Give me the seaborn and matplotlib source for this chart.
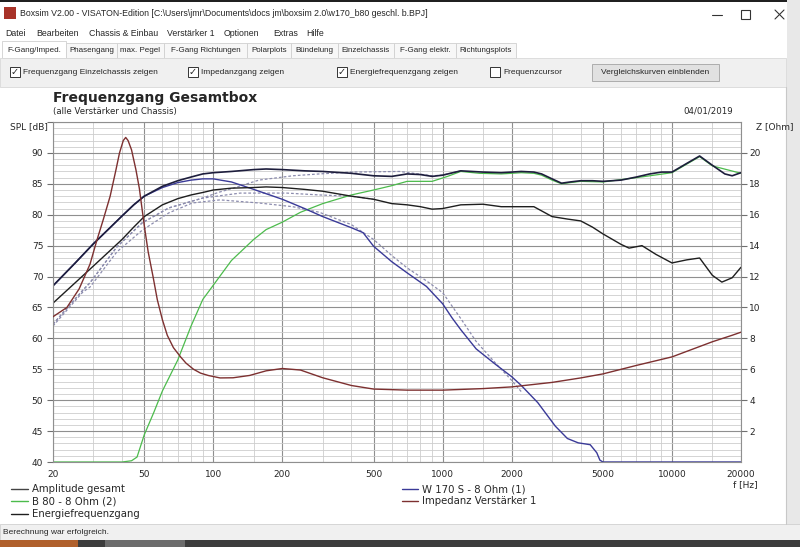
import matplotlib
matplotlib.use("Agg")
import matplotlib.pyplot as plt
import seaborn as sns
from matplotlib.lines import Line2D
from matplotlib.patches import Rectangle

# ---- curve data ----
freq_amp = [20, 25, 30, 35, 40, 45, 50, 60, 70, 80, 90, 100, 120, 150, 170, 200, 250, 300, 400, 500,
            600, 700, 800, 900, 1000, 1200, 1500, 1800, 2000, 2200, 2500, 2700, 3000, 3300, 3600, 4000,
            4500, 5000, 6000, 7000, 8000, 9000, 10000, 11600, 13200, 15000, 17000, 18300, 20000]
spl_amp = [68.5, 72.2, 75.3, 77.7, 79.8, 81.6, 83.0, 84.6, 85.5, 86.1, 86.6, 86.8, 87.0, 87.3, 87.4, 87.3,
           87.1, 87.0, 86.7, 86.3, 86.2, 86.6, 86.5, 86.2, 86.4, 87.1, 86.9, 86.8, 86.9, 87.0, 86.9, 86.6,
           85.8, 85.1, 85.3, 85.5, 85.5, 85.4, 85.6, 86.1, 86.6, 86.9, 86.9, 88.3, 89.5, 88.0, 86.6, 86.3, 86.8]

freq_b80 = [20, 30, 40, 44, 46.5, 50, 55, 60, 70, 80, 90, 100, 120, 150, 170, 200, 240, 300, 400, 500,
            600, 700, 900, 1050, 1200, 1450, 1800, 2000, 2200, 2500, 2700, 3000, 3300, 3600, 4000, 5000,
            7000, 10000, 13200, 15000, 20000]
spl_b80 = [40.0, 40.0, 40.0, 40.2, 40.8, 44.4, 48.0, 51.5, 56.5, 62.0, 66.3, 68.6, 72.6, 76.0, 77.6, 78.8,
           80.4, 81.8, 83.2, 84.0, 84.7, 85.4, 85.4, 86.2, 87.0, 86.7, 86.6, 86.7, 86.8, 86.7, 86.4, 85.6,
           85.0, 85.2, 85.4, 85.3, 86.0, 86.8, 89.4, 87.9, 86.7]

freq_energy = [20, 25, 30, 35, 40, 45, 50, 60, 70, 80, 90, 100, 120, 150, 170, 200, 250, 300, 400, 500,
               600, 700, 800, 900, 1000, 1200, 1500, 1800, 2000, 2500, 3000, 3500, 4000, 4500, 5000, 6000,
               6500, 7400, 8500, 10000, 11600, 13200, 15000, 16500, 18300, 20000]
spl_energy = [65.7, 69.0, 71.7, 74.0, 76.0, 78.0, 79.7, 81.6, 82.6, 83.2, 83.6, 84.0, 84.3, 84.4, 84.5, 84.4,
              84.1, 83.8, 83.0, 82.5, 81.8, 81.6, 81.3, 80.9, 81.0, 81.6, 81.7, 81.3, 81.3, 81.3, 79.7, 79.3,
              79.0, 78.0, 76.9, 75.2, 74.6, 75.0, 73.6, 72.2, 72.7, 73.0, 70.2, 69.1, 69.8, 71.5]

freq_w170 = [20, 25, 30, 35, 40, 45, 50, 60, 70, 80, 90, 100, 120, 150, 170, 200, 250, 300, 400, 450, 500,
             600, 700, 850, 1000, 1100, 1200, 1400, 1700, 2000, 2200, 2600, 3100, 3500, 3900, 4400, 4700,
             4850, 5000, 10000, 20000]
spl_w170 = [68.5, 72.2, 75.3, 77.7, 79.8, 81.6, 83.0, 84.4, 85.2, 85.6, 85.8, 85.8, 85.3, 84.1, 83.4, 82.5,
            81.0, 79.7, 77.9, 77.1, 74.9, 72.4, 70.6, 68.4, 65.6, 63.3, 61.4, 58.3, 55.8, 53.8, 52.4, 49.6,
            45.8, 43.8, 43.1, 42.8, 41.5, 40.3, 40.0, 40.0, 40.0]

freq_imp = [20, 23, 26, 29, 31, 33, 35.5, 37.5, 39, 40.5, 41.5, 42.5, 44, 46, 47.6, 50, 52, 54.6, 57, 60,
            63, 67, 72, 76, 82, 88, 95, 107, 122, 144, 170, 200, 240, 300, 400, 500, 700, 1000, 1500, 2000,
            3000, 4000, 5000, 7000, 10000, 15000, 18300, 20000]
z_imp = [9.4, 10.0, 11.2, 12.8, 14.3, 15.6, 17.2, 18.8, 20.0, 20.8, 21.0, 20.8, 20.2, 18.9, 17.7, 15.3,
         13.6, 12.0, 10.5, 9.2, 8.2, 7.4, 6.8, 6.4, 6.0, 5.75, 5.6, 5.44, 5.45, 5.6, 5.9, 6.05, 5.95, 5.45,
         4.95, 4.72, 4.65, 4.65, 4.75, 4.86, 5.15, 5.44, 5.7, 6.25, 6.8, 7.78, 8.2, 8.4]

# comparison curves (dashed)
freq_cmp_amp = [20, 27, 29, 38, 49, 64, 90, 105, 122, 158, 222, 290, 400, 650, 900, 1000, 1200]
spl_cmp_amp = [62.3, 67.8, 69.0, 74.8, 78.7, 81.1, 82.7, 83.6, 84.3, 85.6, 86.3, 86.6, 86.9, 87.0, 86.3, 86.4, 87.1]
freq_cmp_energy = [20, 27, 29, 38, 49, 64, 90, 131, 209, 290, 400, 500]
spl_cmp_energy = [62.3, 67.8, 69.0, 74.8, 78.7, 81.1, 82.7, 83.5, 83.5, 83.2, 83.0, 82.5]
freq_cmp_w170 = [20, 27, 29, 38, 49, 64, 81, 107, 158, 222, 290, 400, 500, 600, 700, 850, 1000, 1200, 1400,
                 1700, 2000, 2200]
spl_cmp_w170 = [62.0, 67.5, 68.3, 74.0, 77.5, 80.3, 81.9, 82.4, 81.9, 81.3, 80.4, 78.4, 76.0, 73.4, 71.4,
                69.3, 67.4, 63.2, 59.5, 56.0, 53.2, 51.4]

x_major = [20, 50, 100, 200, 500, 1000, 2000, 5000, 10000, 20000]
x_minor = [30, 40, 60, 70, 80, 90, 150, 300, 400, 600, 700, 800, 900, 1500, 3000, 4000,
           6000, 7000, 8000, 9000, 15000]

legend_left = ["Amplitude gesamt", "B 80 - 8 Ohm (2)", "Energiefrequenzgang"]
legend_right = ["W 170 S - 8 Ohm (1)", "Impedanz Verstärker 1"]

C_AMP, C_B80, C_EN, C_W170, C_IMP, C_CMP = "#1d1d3c", "#4cbb4c", "#1e1e1e", "#3a3a98", "#7d3030", "#8c8cae"

sns.set_style("white")
plt.rcParams["font.family"] = ["DejaVu Sans"]

W, H = 800, 547
fig = plt.figure(figsize=(8, 5.47), dpi=100)
fig.patch.set_facecolor("white")


def fx(x):
    return x / W


def fy(y):
    return 1 - y / H


def box(x0, y0, x1, y1, fc, ec="none", lw=0.8):
    fig.add_artist(Rectangle((fx(x0), fy(y1)), (x1 - x0) / W, (y1 - y0) / H, transform=fig.transFigure,
                             facecolor=fc, edgecolor=ec, linewidth=lw))


def hline(x0, x1, y, color, lw=0.8):
    fig.add_artist(Line2D([fx(x0), fx(x1)], [fy(y), fy(y)], transform=fig.transFigure, color=color, lw=lw))


def txt(x, y, s, size=6, family="Liberation Sans", **kw):
    fig.text(fx(x), fy(y), s, fontsize=size, va="center", family=family, **kw)


# ---- window chrome ----
box(0, 0, 800, 2, "#202020")
box(4, 7, 16, 19, "#a83228")
txt(20, 14, "Boxsim V2.00 - VISATON-Edition [C:\\Users\\jmr\\Documents\\docs jm\\boxsim 2.0\\w170_b80 geschl. b.BPJ]", 6.3)
hline(712, 722, 15, "#333333", 0.8)
box(741, 10, 750, 19, "none", "#333333", 0.8)
fig.add_artist(Line2D([fx(775), fx(784)], [fy(10), fy(19)], transform=fig.transFigure, color="#333333", lw=0.8))
fig.add_artist(Line2D([fx(775), fx(784)], [fy(19), fy(10)], transform=fig.transFigure, color="#333333", lw=0.8))

for x, s in zip([5, 36, 89, 167, 224, 273, 306],
                ["Datei", "Bearbeiten", "Chassis & Einbau", "Verstärker 1", "Optionen", "Extras", "Hilfe"]):
    txt(x, 33, s, 6.3)

tab_edges = [2, 66, 117, 164, 247, 291, 338, 394, 456, 516]
tab_names = ["F-Gang/Imped.", "Phasengang", "max. Pegel", "F-Gang Richtungen", "Polarplots",
             "Bündelung", "Einzelchassis", "F-Gang elektr.", "Richtungsplots"]
for i, name in enumerate(tab_names):
    top = 41 if i == 0 else 43
    box(tab_edges[i], top, tab_edges[i + 1], 58, "white" if i == 0 else "#f7f7f7", "#d0d0d0", 0.6)
    txt((tab_edges[i] + tab_edges[i + 1]) / 2, 50, name, 5.8, ha="center")

box(0, 58, 786, 87, "#f0f0f0", "#d8d8d8", 0.6)
checks = [(10, "Frequenzgang Einzelchassis zeigen", True), (188, "Impedanzgang zeigen", True),
          (337, "Energiefrequenzgang zeigen", True), (490, "Frequenzcursor", False)]
for x, s, on in checks:
    box(x, 67, x + 10, 77, "white", "#333333", 0.7)
    if on:
        fig.text(fx(x + 5), fy(72), "\u2713", fontsize=7, ha="center", va="center", family="DejaVu Sans")
    txt(x + 13, 72, s, 6.0)
box(592, 64, 719, 81, "#e1e1e1", "#adadad", 0.7)
txt(655, 72.5, "Vergleichskurven einblenden", 6.0, ha="center")

# right window border and status bar
fig.add_artist(Line2D([fx(786), fx(786)], [fy(87), fy(524)], transform=fig.transFigure, color="#c8c8c8", lw=0.8))
box(787, 0, 800, 540, "#e8e8e8")
box(0, 524, 800, 540, "#f0f0f0", "#d0d0d0", 0.6)
txt(3, 532, "Berechnung war erfolgreich.", 6.0)
box(0, 540, 800, 547, "#3c3c3c")
box(0, 540, 78, 547, "#b0602c")
box(105, 540, 185, 547, "#6c6c6c")

# ---- chart texts ----
txt(53, 98, "Frequenzgang Gesamtbox", 10, family="DejaVu Sans", weight="bold")
txt(53, 111, "(alle Verstärker und Chassis)", 6.2, family="DejaVu Sans")
txt(733, 111, "04/01/2019", 6.2, family="DejaVu Sans", ha="right")
txt(10, 127, "SPL [dB]", 6.5, family="DejaVu Sans")
txt(756, 127, "Z [Ohm]", 6.5, family="DejaVu Sans")
txt(745, 485, "f [Hz]", 6.5, family="DejaVu Sans", ha="center")

# ---- plot area ----
ax = fig.add_axes([fx(53), fy(462), (741 - 53) / W, (462 - 122) / H])
ax.set_facecolor("white")
ax.set_xscale("log")
ax.set_xlim(20, 20000)
ax.set_ylim(40, 95)

ax.set_xticks(x_major)
ax.set_xticks(x_minor, minor=True)
ax.set_xticklabels([str(v) for v in x_major])
ax.set_xticklabels([], minor=True)
ax.set_yticks(range(40, 96, 5))
ax.set_yticklabels([str(v) if v <= 90 else "" for v in range(40, 96, 5)])
ax.set_yticks(range(40, 96), minor=True)
ax.set_yticklabels([], minor=True)
ax.grid(which="major", color="#8f8f8f", lw=0.8)
ax.grid(which="minor", color="#cdcdcd", lw=0.6)
ax.set_axisbelow(True)
ax.tick_params(axis="y", which="major", length=4, width=0.8, color="#707070", labelsize=6.5, pad=3)
ax.tick_params(axis="x", which="major", length=0, labelsize=6.5, pad=6)
ax.tick_params(which="minor", length=0)
for sp in ax.spines.values():
    sp.set_color("#8f8f8f")
    sp.set_linewidth(0.8)

dash = (0, (2.2, 1.6))
sns.lineplot(x=freq_cmp_w170, y=spl_cmp_w170, ax=ax, color=C_CMP, lw=0.9, linestyle=dash)
sns.lineplot(x=freq_cmp_energy, y=spl_cmp_energy, ax=ax, color=C_CMP, lw=0.9, linestyle=dash)
sns.lineplot(x=freq_cmp_amp, y=spl_cmp_amp, ax=ax, color=C_CMP, lw=0.9, linestyle=dash)
sns.lineplot(x=freq_b80, y=spl_b80, ax=ax, color=C_B80, lw=0.9)
sns.lineplot(x=freq_w170, y=spl_w170, ax=ax, color=C_W170, lw=1.0)
sns.lineplot(x=freq_energy, y=spl_energy, ax=ax, color=C_EN, lw=1.0)
sns.lineplot(x=freq_amp, y=spl_amp, ax=ax, color=C_AMP, lw=1.2)
ax.set_xlabel("")
ax.set_ylabel("")

ax2 = ax.twinx()
ax2.set_ylim(0, 22)
sns.lineplot(x=freq_imp, y=z_imp, ax=ax2, color=C_IMP, lw=1.0)
ax2.set_yticks(range(2, 21, 2))
ax2.set_ylabel("")
ax2.tick_params(axis="y", length=4, width=0.8, color="#707070", labelsize=6.5, pad=2)
ax2.grid(False)
for sp in ax2.spines.values():
    sp.set_visible(False)
ax.set_xlim(20, 20000)

# ---- legend ----
for i, (name, col) in enumerate(zip(legend_left, ["#444444", C_B80, C_EN])):
    y = 489 + 12.3 * i
    hline(11, 28, y, col, 1.0)
    txt(32, y, name, 7.3, family="DejaVu Sans")
for i, (name, col) in enumerate(zip(legend_right, [C_W170, C_IMP])):
    y = 489 + 12.3 * i
    hline(402, 418, y, col, 1.0)
    txt(422, y, name, 7.3, family="DejaVu Sans")

fig.savefig("out.png", dpi=100)
